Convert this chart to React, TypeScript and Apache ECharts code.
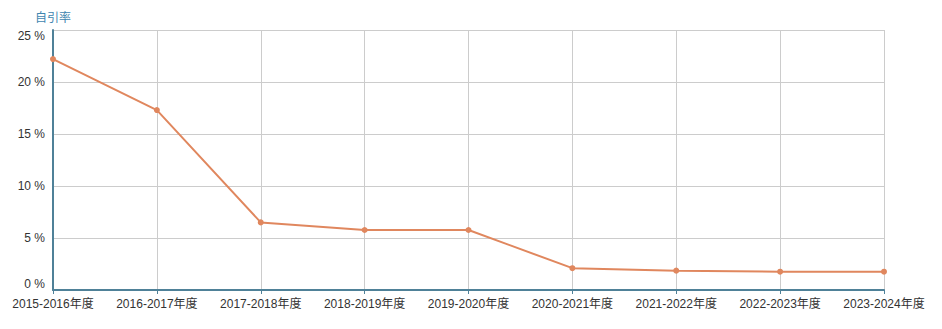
import React, { useEffect, useRef } from "react";
import * as echarts from "echarts";

const categories = [
  "2015-2016年度",
  "2016-2017年度",
  "2017-2018年度",
  "2018-2019年度",
  "2019-2020年度",
  "2020-2021年度",
  "2021-2022年度",
  "2022-2023年度",
  "2023-2024年度",
];
const selfCitationRate = [22.2, 17.3, 6.5, 5.77, 5.77, 2.1, 1.86, 1.76, 1.76];
const yAxisName = "自引率";

export default function App() {
  const ref = useRef<HTMLDivElement>(null);
  useEffect(() => {
    if (!ref.current) return;
    const chart = echarts.init(ref.current, null, { renderer: "svg" });
    const font = "'Liberation Sans', 'Noto Sans CJK SC', sans-serif";
    chart.setOption({
      animation: false,
      textStyle: { fontFamily: font },
      grid: { left: 53, right: 58, top: 30, bottom: 39 },
      xAxis: {
        type: "category",
        data: categories,
        boundaryGap: false,
        axisLine: { show: true, lineStyle: { color: "#4f8198", width: 2 } },
        axisTick: { show: true, interval: 0, alignWithLabel: true, lineStyle: { color: "#4f8198" }, length: 4 },
        axisLabel: { color: "#333", fontSize: 12, margin: 8, interval: 0, fontFamily: font },
        splitLine: { show: true, interval: 0, lineStyle: { color: "#cccccc", width: 1 } },
      },
      yAxis: {
        type: "value",
        name: yAxisName,
        nameLocation: "end",
        nameGap: 6,
        nameTextStyle: { color: "#3f86b0", fontSize: 12, align: "center" },
        min: 0,
        max: 25,
        interval: 5,
        axisLine: { show: true, lineStyle: { color: "#4f8198", width: 2 } },
        axisTick: { show: false },
        axisLabel: {
          color: "#333",
          fontSize: 12,
          margin: 8,
          formatter: "{value} %",
          verticalAlignMinLabel: "bottom",
          verticalAlignMaxLabel: "top",
          fontFamily: font,
        },
        splitLine: { show: true, lineStyle: { color: "#cccccc", width: 1 } },
      },
      series: [
        {
          type: "line",
          data: selfCitationRate,
          symbol: "circle",
          symbolSize: 6,
          lineStyle: { color: "#e0875e", width: 2 },
          itemStyle: { color: "#e0875e" },
        },
      ],
    });
    return () => chart.dispose();
  }, []);
  return (
    <div
      ref={ref}
      style={{ position: "absolute", left: 0, top: 0, width: 942, height: 329, background: "#fff" }}
    />
  );
}
